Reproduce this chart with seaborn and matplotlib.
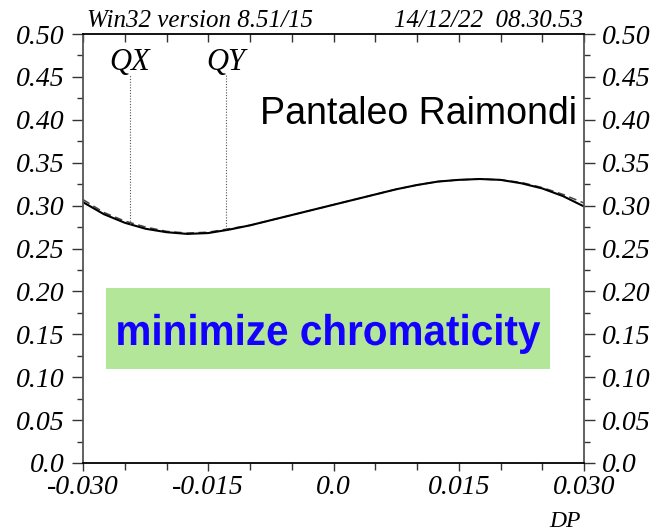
import matplotlib
matplotlib.use("Agg")
import matplotlib.pyplot as plt
import seaborn as sns
import pandas as pd
from matplotlib.patches import Rectangle
from matplotlib.patheffects import AbstractPathEffect
from matplotlib.transforms import Affine2D
from matplotlib.ticker import MultipleLocator, FixedLocator, FixedFormatter

# momentum deviation DP and the two chromatic tune curves
dp = [-0.030, -0.0275, -0.025, -0.0225, -0.020, -0.0175, -0.015, -0.0125,
      -0.010, -0.0075, -0.005, -0.0025, 0.000, 0.0025, 0.005, 0.0075,
      0.010, 0.0125, 0.015, 0.0175, 0.020, 0.0225, 0.025, 0.0275, 0.030]
qx = [0.304, 0.290, 0.280, 0.273, 0.269, 0.267, 0.268, 0.272,
      0.277, 0.283, 0.289, 0.295, 0.301, 0.307, 0.313, 0.319,
      0.324, 0.328, 0.330, 0.331, 0.330, 0.326, 0.320, 0.311, 0.299]
qy = [0.307, 0.292, 0.282, 0.275, 0.270, 0.268, 0.269, 0.273,
      0.277, 0.283, 0.289, 0.295, 0.301, 0.307, 0.313, 0.319,
      0.324, 0.328, 0.330, 0.331, 0.330, 0.327, 0.321, 0.313, 0.303]

# working-point markers
marker_names = ["QX", "QY"]
marker_dp = [-0.0244, -0.0129]
marker_q = [0.278, 0.273]

y_ticks = [0.0, 0.05, 0.10, 0.15, 0.20, 0.25, 0.30, 0.35, 0.40, 0.45, 0.50]
y_labels = ["0.0", "0.05", "0.10", "0.15", "0.20", "0.25", "0.30", "0.35",
            "0.40", "0.45", "0.50"]
x_ticks = [-0.030, -0.015, 0.0, 0.015, 0.030]
x_labels = ["-0.030", "-0.015", "0.0", "0.015", "0.030"]

header_left = "Win32 version 8.51/15"
header_right = "14/12/22  08.30.53"
author = "Pantaleo Raimondi"
banner = "minimize chromaticity"
x_title = "DP"


class Condense(AbstractPathEffect):
    """Narrow the glyphs horizontally about the text centre."""

    def __init__(self, sx=0.9):
        super().__init__()
        self.sx = sx

    def draw_path(self, renderer, gc, tpath, affine, rgbFace=None):
        ext = tpath.get_extents(affine)
        xc = 0.5 * (ext.x0 + ext.x1)
        t = affine + Affine2D().translate(-xc, 0).scale(self.sx, 1).translate(xc, 0)
        renderer.draw_path(gc, tpath, t, rgbFace)


sns.set_style("ticks")
plt.rcParams["font.family"] = ["Liberation Serif", "DejaVu Serif"]
plt.rcParams["text.color"] = "black"
plt.rcParams["xtick.labelcolor"] = "black"
plt.rcParams["ytick.labelcolor"] = "black"

W, H = 658, 531
fig = plt.figure(figsize=(W / 100, H / 100), dpi=100)
L, R, T, B = 83, 584, 34, 463
ax = fig.add_axes([L / W, 1 - B / H, (R - L) / W, (B - T) / H])

df = pd.DataFrame({"DP": dp, "QX": qx, "QY": qy})
sns.lineplot(data=df, x="DP", y="QY", ax=ax, color="#444444", lw=1.1,
             linestyle=(0, (5, 3)), sort=False)
sns.lineplot(data=df, x="DP", y="QX", ax=ax, color="black", lw=1.5, sort=False)

for name, xm, ym in zip(marker_names, marker_dp, marker_q):
    ax.plot([xm, xm], [ym, 0.453], color="#555555", lw=0.8, linestyle=(0, (1, 1.5)))
    ax.text(xm, 0.458, name, ha="center", va="baseline", fontsize=22,
            style="italic", color="black")

ax.set_xlim(-0.030, 0.030)
ax.set_ylim(0.0, 0.50)
ax.set_xlabel("")
ax.set_ylabel("")

ax.yaxis.set_major_locator(FixedLocator(y_ticks))
ax.yaxis.set_major_formatter(FixedFormatter(y_labels))
ax.yaxis.set_minor_locator(MultipleLocator(0.025))
ax.xaxis.set_major_locator(FixedLocator(x_ticks))
ax.xaxis.set_major_formatter(FixedFormatter(x_labels))
ax.xaxis.set_minor_locator(MultipleLocator(0.005))

ax.tick_params(axis="y", which="both", direction="out", left=True, right=True,
               labelleft=True, labelright=True, color="#333333")
ax.tick_params(axis="y", which="major", length=8, width=1.0, labelsize=20, pad=5)
ax.tick_params(axis="y", which="minor", length=4, width=1.0)
ax.tick_params(axis="x", which="both", direction="out", top=False, bottom=True,
               color="#333333")
ax.tick_params(axis="x", which="major", length=6, width=1.0, labelsize=20, pad=3)
ax.tick_params(axis="x", which="minor", length=5, width=1.0)
for lab in ax.get_yticklabels() + ax.get_xticklabels():
    lab.set_fontstyle("italic")
    lab.set_color("black")

# inward ticks along the top edge
top = ax.secondary_xaxis("top")
top.set_xticks([v / 1000 for v in range(-30, 31, 5)])
top.tick_params(direction="in", length=6, width=1.0, labeltop=False, color="#333333")
top.spines["top"].set_visible(False)

for side in ["left", "right"]:
    ax.spines[side].set_color("#555555")
    ax.spines[side].set_linewidth(1.3)
for side in ["top", "bottom"]:
    ax.spines[side].set_color("black")
    ax.spines[side].set_linewidth(1.3)

fig.text(87 / W, 1 - 27 / H, header_left, ha="left", va="baseline",
         fontsize=18, style="italic", color="black")
fig.text(583 / W, 1 - 27 / H, header_right, ha="right", va="baseline",
         fontsize=18, style="italic", color="black")

fig.text(577 / W, 1 - 124 / H, author, ha="right", va="baseline", fontsize=27,
         color="black", family=["Liberation Sans", "DejaVu Sans"])

fig.patches.append(Rectangle((106 / W, 1 - 369 / H), 444 / W, 81 / H,
                             transform=fig.transFigure, facecolor="#b4e69a",
                             edgecolor="none", zorder=3))
fig.text(327 / W, 1 - 345 / H, banner, ha="center", va="baseline", fontsize=31,
         fontweight="bold", color="#1400ff", zorder=4,
         family=["Liberation Sans", "DejaVu Sans"],
         path_effects=[Condense(0.94)])

fig.text(565 / W, 1 - 527 / H, x_title, ha="center", va="baseline", fontsize=17,
         style="italic", color="black")

fig.savefig("out.png", dpi=100)
